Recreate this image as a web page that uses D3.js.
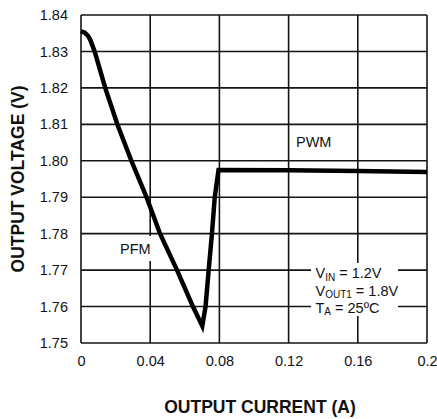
<!DOCTYPE html>
<html>
<head>
<meta charset="utf-8">
<script src="https://cdn.jsdelivr.net/npm/d3@7/dist/d3.min.js"></script>
<style>
  html, body { margin: 0; padding: 0; background: #fff; }
  svg { display: block; }
  text { font-family: "Liberation Sans", Arial, Helvetica, sans-serif; fill: #111; }
</style>
</head>
<body>
<svg id="chart" width="437" height="419"></svg>
<script>
// Data
const currentA = [0, 0.002, 0.0041, 0.0055, 0.0079, 0.014, 0.021, 0.0291, 0.0379, 0.0457, 0.0555, 0.0647, 0.0701, 0.0720, 0.0738, 0.0757, 0.0773, 0.0795, 0.12, 0.16, 0.2];
const voltageV = [1.8355, 1.8352, 1.8343, 1.8330, 1.8300, 1.8200, 1.8100, 1.8000, 1.7900, 1.7800, 1.7700, 1.7600, 1.7547, 1.7600, 1.7700, 1.7800, 1.7900, 1.7975, 1.7974, 1.7972, 1.7969];
const xTicks = [0, 0.04, 0.08, 0.12, 0.16, 0.2];
const xTickLabels = ["0", "0.04", "0.08", "0.12", "0.16", "0.2"];
const yTicks = [1.75, 1.76, 1.77, 1.78, 1.79, 1.80, 1.81, 1.82, 1.83, 1.84];
const yTickLabels = ["1.75", "1.76", "1.77", "1.78", "1.79", "1.80", "1.81", "1.82", "1.83", "1.84"];
const xTitle = "OUTPUT CURRENT (A)";
const yTitle = "OUTPUT VOLTAGE (V)";

const svg = d3.select("#chart");
const W = 437, H = 419;
const m = { left: 81, top: 15, right: 10, bottom: 76 };

const x = d3.scaleLinear().domain([0, 0.2]).range([m.left, W - m.right]);
const y = d3.scaleLinear().domain([1.75, 1.84]).range([H - m.bottom, m.top]);

const gridColor = "#151515";
const gridW = 1.6;

// Grid
const grid = svg.append("g");
grid.selectAll("line.v").data(xTicks).join("line")
  .attr("x1", d => x(d)).attr("x2", d => x(d))
  .attr("y1", y(1.75)).attr("y2", y(1.84))
  .attr("stroke", gridColor).attr("stroke-width", gridW);
grid.selectAll("line.h").data(yTicks).join("line")
  .attr("x1", x(0)).attr("x2", x(0.2))
  .attr("y1", d => y(d)).attr("y2", d => y(d))
  .attr("stroke", gridColor).attr("stroke-width", gridW);

// Label backgrounds (white boxes that interrupt grid)
svg.append("rect").attr("x", 116).attr("y", 236).attr("width", 38).attr("height", 25).attr("fill", "#fff");
svg.append("rect").attr("x", 311).attr("y", 263).attr("width", 87).attr("height", 53).attr("fill", "#fff");

// Axes (labels only)
const yAxis = d3.axisLeft(y).tickValues(yTicks)
  .tickFormat((d, i) => yTickLabels[i]).tickSize(0).tickPadding(13);
const gy = svg.append("g").attr("transform", `translate(${m.left},0)`).call(yAxis);
gy.select(".domain").remove();
gy.selectAll("text").style("font-size", "14.5px").style("font-family", '"Liberation Sans", Arial, sans-serif').attr("fill", "#111");

const xAxis = d3.axisBottom(x).tickValues(xTicks)
  .tickFormat((d, i) => xTickLabels[i]).tickSize(0).tickPadding(13);
const gx = svg.append("g").attr("transform", `translate(0,${H - m.bottom})`).call(xAxis);
gx.select(".domain").remove();
gx.selectAll("text").style("font-size", "14.5px").style("font-family", '"Liberation Sans", Arial, sans-serif').attr("fill", "#111");

// Data line
const pts = currentA.map((c, i) => [c, voltageV[i]]);
const line = d3.line().x(d => x(d[0])).y(d => y(d[1])).curve(d3.curveLinear);
svg.append("path").datum(pts)
  .attr("d", line).attr("fill", "none").attr("stroke", "#000")
  .attr("stroke-width", 4.5).attr("stroke-linejoin", "miter").attr("stroke-miterlimit", 4);

// Region labels
svg.append("text").attr("x", 296).attr("y", 146.7).style("font-size", "14.5px").text("PWM");
svg.append("text").attr("x", 120).attr("y", 254).style("font-size", "14.5px").text("PFM");

// Conditions annotation
const ann = svg.append("g").style("font-size", "14.5px");
const t1 = ann.append("text").attr("x", 315.5).attr("y", 278.3);
t1.append("tspan").text("V");
t1.append("tspan").attr("dy", 2.5).style("font-size", "10px").text("IN");
t1.append("tspan").attr("dy", -2.5).text(" = 1.2V");
const t2 = ann.append("text").attr("x", 315.5).attr("y", 295.5);
t2.append("tspan").text("V");
t2.append("tspan").attr("dy", 2.5).style("font-size", "10px").text("OUT1");
t2.append("tspan").attr("dy", -2.5).text(" = 1.8V");
const t3 = ann.append("text").attr("x", 315.5).attr("y", 312.5);
t3.append("tspan").text("T");
t3.append("tspan").attr("dy", 2.5).style("font-size", "10px").text("A");
t3.append("tspan").attr("dy", -2.5).text(" = 25ºC");

// Axis titles
svg.append("text").attr("x", 260).attr("y", 413).attr("text-anchor", "middle")
  .style("font-size", "17.5px").style("font-weight", "bold").text(xTitle);
svg.append("text").attr("transform", "translate(24,179) rotate(-90)").attr("text-anchor", "middle")
  .style("font-size", "17.5px").style("font-weight", "bold").text(yTitle);
</script>
</body>
</html>
